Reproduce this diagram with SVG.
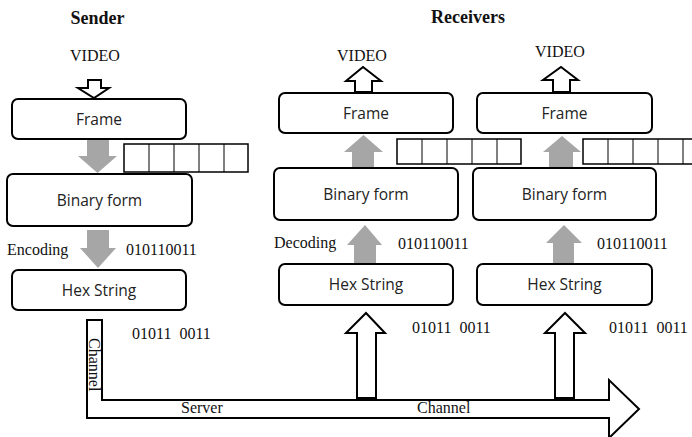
<svg xmlns="http://www.w3.org/2000/svg" width="692" height="437" viewBox="0 0 692 437">
<style>
.box{fill:#fff;stroke:#000;stroke-width:2}
.lbl{font-family:"Open Sans","Liberation Sans",Arial,sans-serif;font-size:15.5px;fill:#222;text-anchor:middle}
.ser{font-family:"Liberation Serif","Times New Roman",serif;font-size:16px;fill:#111}
.ttl{font-family:"Liberation Serif","Times New Roman",serif;font-size:18px;font-weight:bold;fill:#111;text-anchor:middle}
.gray{fill:#a6a6a6;stroke:none}
.hollow{fill:#fff;stroke:#000;stroke-width:2;stroke-linejoin:miter}
.reg{fill:#fff;stroke:#000;stroke-width:1.5}
.cell{stroke:#000;stroke-width:1}
</style>
<rect width="692" height="437" fill="#fff"/>
<g id="titles">
<text class="ttl" x="97.5" y="24">Sender</text>
<text class="ttl" x="468" y="23">Receivers</text>
</g>
<g id="channel">
<path class="hollow" d="M87,320 H102 V400 H609 V380 L639,409 L609,438 V418 H87 Z"/>
<text class="ser" transform="translate(89,338) rotate(90)">Channel</text>
<text class="ser" x="181" y="413">Server</text>
<text class="ser" x="417" y="413">Channel</text>
</g>
<g id="connectors">
<path class="hollow" d="M88,80 H101 V88 H109 L94,98 L78,88 H88 Z"/>
<path class="gray" d="M87,140 H109 V156 H117 L97.5,173 L78,156 H87 Z"/>
<path class="gray" d="M87,230 H109 V248 H116 L98,268 L80,248 H87 Z"/>
<path class="hollow" d="M355,92 V81 H346 L363,67 L381,81 H372 V92 Z"/>
<path class="gray" d="M352,167 V152 H344 L363.5,135 L383,152 H374 V167 Z"/>
<path class="gray" d="M354,263 V245 H347 L365,225 L382,245 H376 V263 Z"/>
<path class="hollow" d="M357,398 V333 H346 L366,313 L385,333 H376 V398 Z"/>
<path class="hollow" d="M553,92 V80 H543 L561,67 L578,80 H570 V92 Z"/>
<path class="gray" d="M549,167 V152 H543 L562,136 L581,152 H573 V167 Z"/>
<path class="gray" d="M553,263 V243 H546 L564,225 L582,243 H574 V263 Z"/>
<path class="hollow" d="M555,398 V333 H545 L565,313 L585,333 H574 V398 Z"/>
</g>
<g id="sender-video"><text class="ser" x="70" y="61">VIDEO</text></g>
<g id="sender-frame">
<rect class="box" x="12" y="99" width="174" height="40" rx="6"/>
<text class="lbl" x="99" y="125">Frame</text>
</g>
<g id="sender-register">
<rect class="reg" x="124" y="144" width="124" height="28"/>
<path class="cell" d="M149,144V172M174,144V172M199,144V172M224,144V172"/>
</g>
<g id="sender-binary">
<rect class="box" x="7" y="174" width="185" height="52" rx="6"/>
<text class="lbl" x="99.5" y="205.5">Binary form</text>
</g>
<g id="sender-encoding">
<text class="ser" x="7" y="255">Encoding</text>
<text class="ser" x="126" y="255">010110011</text>
</g>
<g id="sender-hex">
<rect class="box" x="12" y="270" width="174" height="40" rx="6"/>
<text class="lbl" x="99" y="295.5">Hex String</text>
</g>
<g id="sender-bits"><text class="ser" x="132" y="339" xml:space="preserve">01011  0011</text></g>

<g id="r1-video"><text class="ser" x="337" y="61">VIDEO</text></g>
<g id="r1-frame">
<rect class="box" x="279" y="93" width="174" height="40" rx="6"/>
<text class="lbl" x="366" y="119">Frame</text>
</g>
<g id="r1-register">
<rect class="reg" x="397" y="139" width="124" height="25"/>
<path class="cell" d="M422,139V164M447,139V164M472,139V164M497,139V164"/>
</g>
<g id="r1-binary">
<rect class="box" x="274" y="168" width="184" height="52" rx="6"/>
<text class="lbl" x="366" y="199.5">Binary form</text>
</g>
<g id="r1-decoding">
<text class="ser" x="274" y="248">Decoding</text>
<text class="ser" x="398" y="249">010110011</text>
</g>
<g id="r1-hex">
<rect class="box" x="279" y="264" width="174" height="41" rx="6"/>
<text class="lbl" x="366" y="290">Hex String</text>
</g>
<g id="r1-bits"><text class="ser" x="412" y="333" xml:space="preserve">01011  0011</text></g>

<g id="r2-video"><text class="ser" x="535" y="57">VIDEO</text></g>
<g id="r2-frame">
<rect class="box" x="477" y="93" width="175" height="40" rx="6"/>
<text class="lbl" x="564.5" y="119">Frame</text>
</g>
<g id="r2-register">
<rect class="reg" x="583" y="139" width="125" height="25"/>
<path class="cell" d="M608,139V164M633,139V164M658,139V164M683,139V164"/>
</g>
<g id="r2-binary">
<rect class="box" x="473" y="168" width="183" height="52" rx="6"/>
<text class="lbl" x="564.5" y="199.5">Binary form</text>
</g>
<g id="r2-decoding">
<text class="ser" x="597" y="249">010110011</text>
</g>
<g id="r2-hex">
<rect class="box" x="477" y="264" width="175" height="41" rx="6"/>
<text class="lbl" x="564.5" y="290">Hex String</text>
</g>
<g id="r2-bits"><text class="ser" x="609" y="333" xml:space="preserve">01011  0011</text></g>
</svg>
